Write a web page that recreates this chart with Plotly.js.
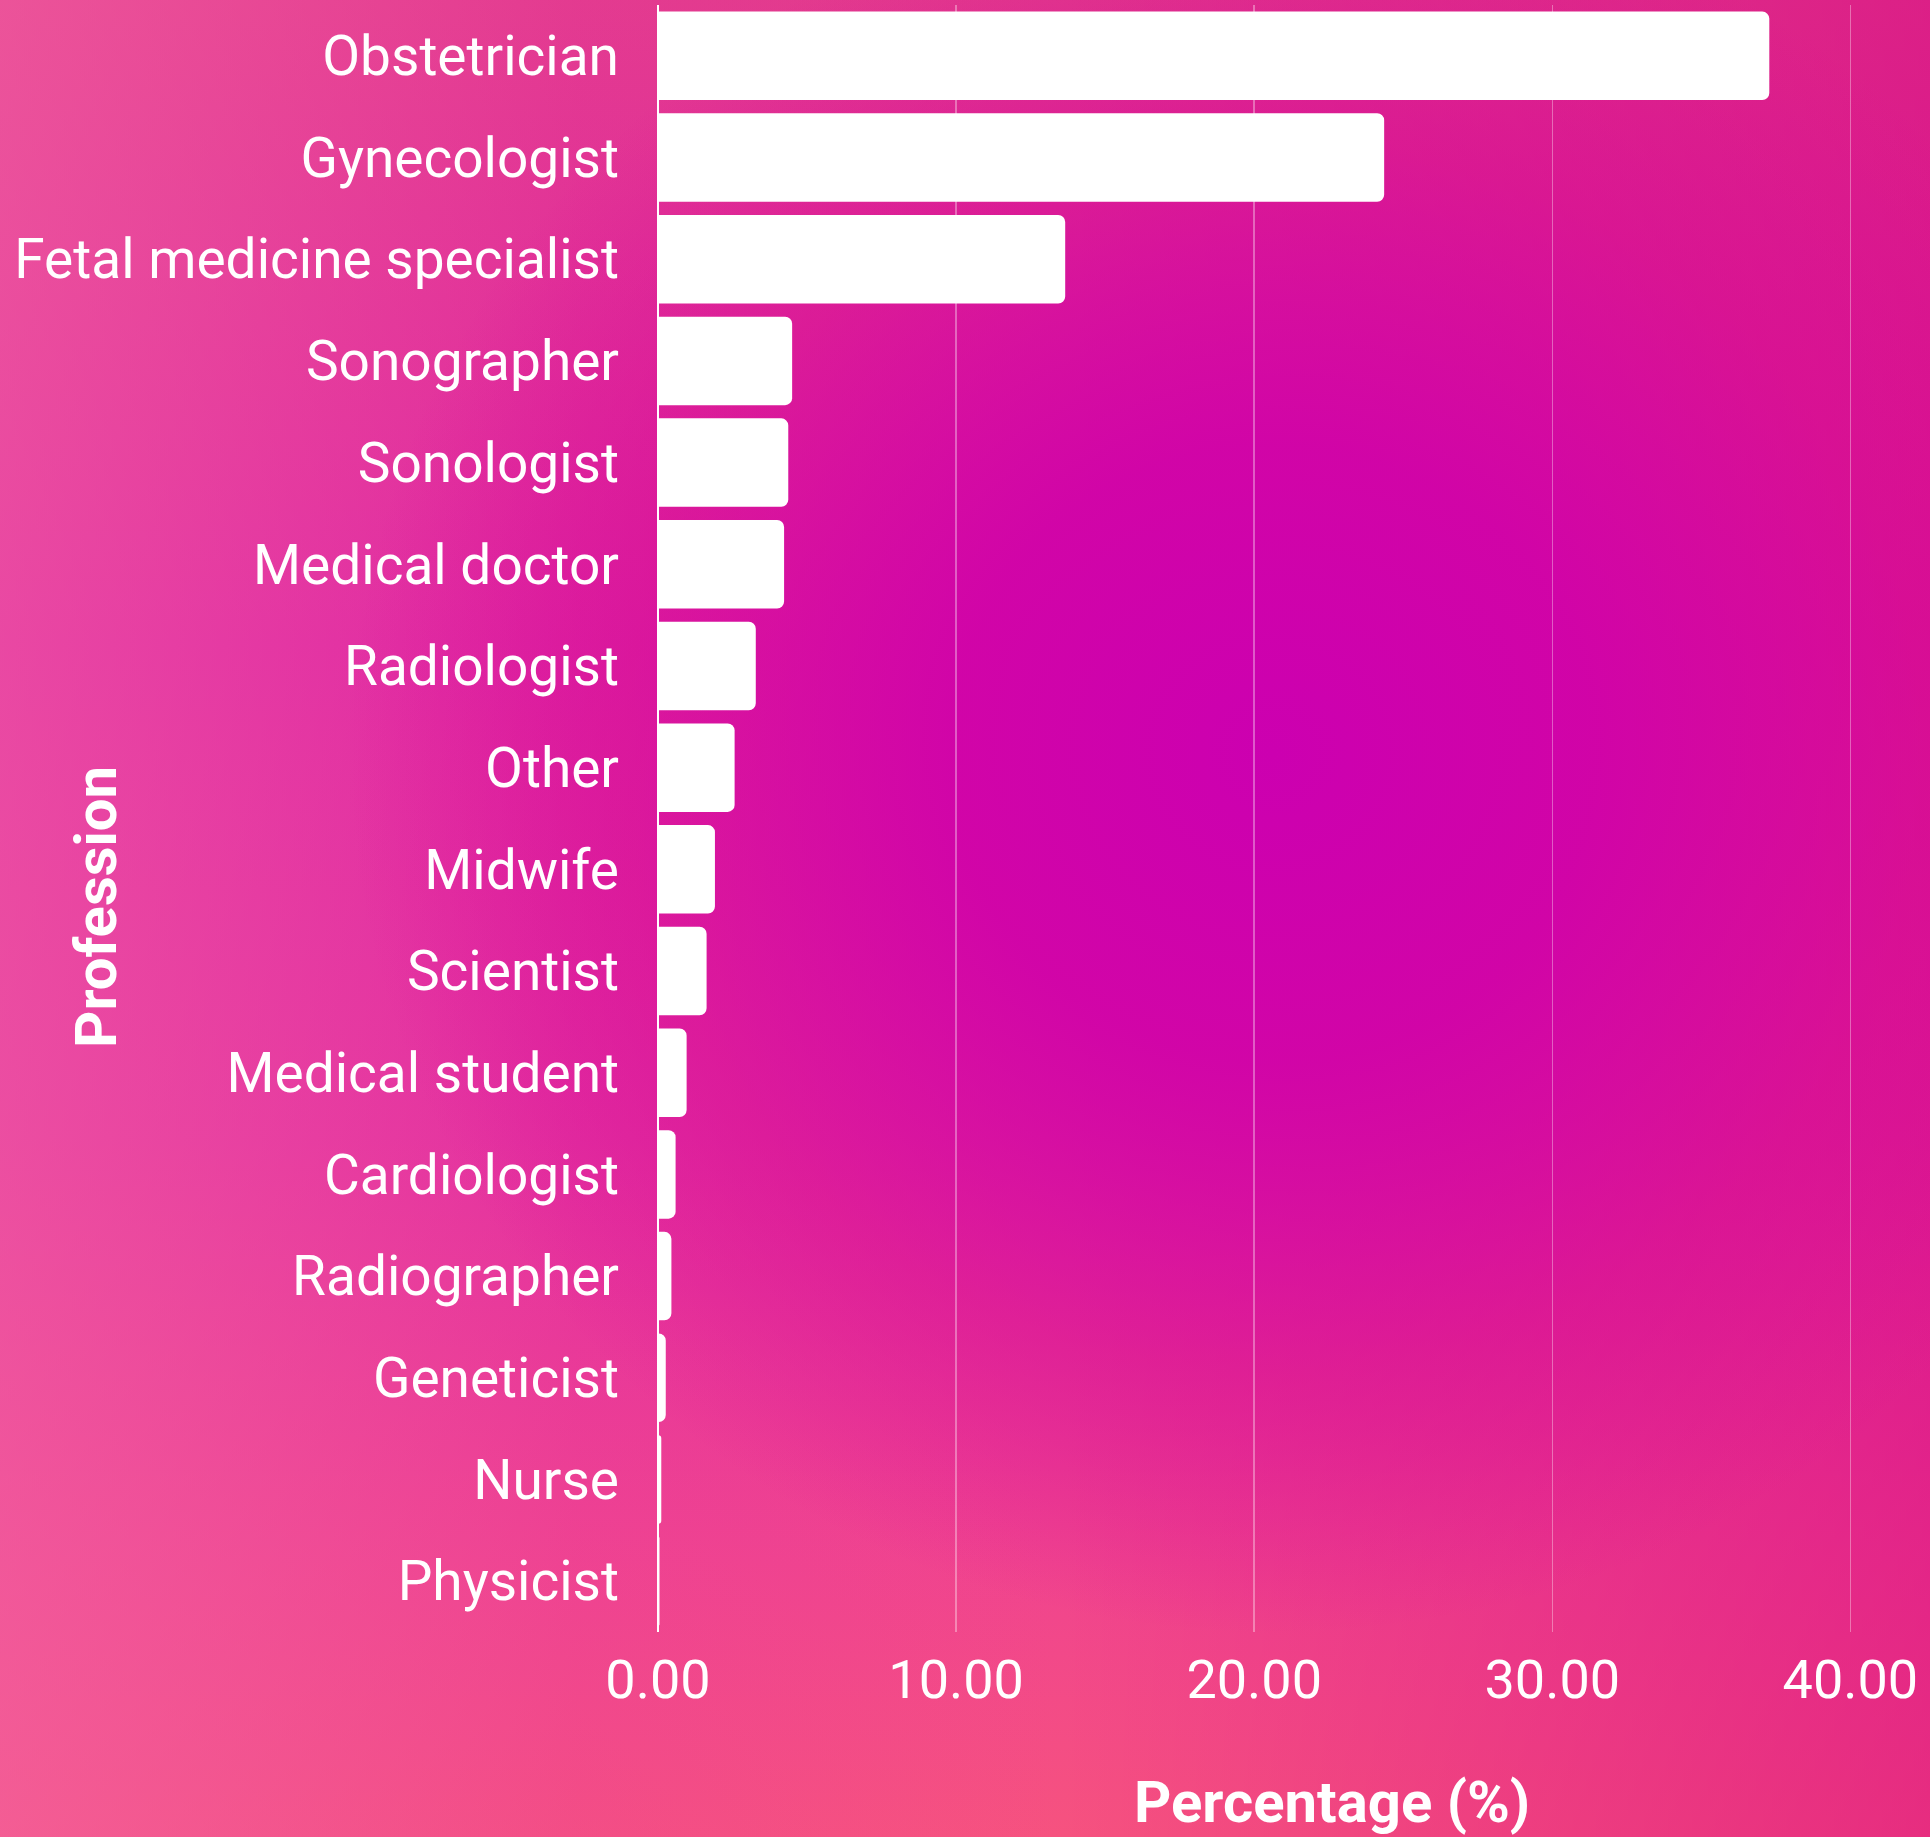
<!DOCTYPE html>
<html>
<head>
<meta charset="utf-8">
<script src="https://cdn.plot.ly/plotly-3.0.1.min.js"></script>
<style>
html, body { margin: 0; padding: 0; }
#bg {
  position: absolute; left: 0; top: 0; width: 1930px; height: 1837px;
  background:
    radial-gradient(ellipse 48% 48% at 66% 41%, rgba(204,0,176,1) 0%, rgba(208,2,168,0.92) 35%, rgba(214,10,150,0.5) 70%, rgba(214,10,150,0) 100%),
    linear-gradient(to right, rgba(242,100,162,0.6) 0%, rgba(232,60,160,0.2) 30%, rgba(220,20,150,0) 55%, rgba(212,0,128,0.45) 100%),
    linear-gradient(to bottom, #e23a8c 0%, #dc1ea4 35%, #e22ca0 62%, #f0448e 85%, #f6527f 100%);
}
#chart { position: absolute; left: 0; top: 0; width: 1930px; height: 1837px; }
</style>
</head>
<body>
<div id="bg"></div>
<div id="chart"></div>
<script>
const professions = [
  "Obstetrician", "Gynecologist", "Fetal medicine specialist", "Sonographer",
  "Sonologist", "Medical doctor", "Radiologist", "Other", "Midwife", "Scientist",
  "Medical student", "Cardiologist", "Radiographer", "Geneticist", "Nurse", "Physicist"
];
const percentages = [
  37.28, 24.36, 13.66, 4.50, 4.37, 4.23, 3.28, 2.57, 1.91, 1.63,
  0.96, 0.59, 0.45, 0.26, 0.11, 0.05
];
const xTickValues = [0, 10, 20, 30, 40];
const xTickLabels = ["0.00", "10.00", "20.00", "30.00", "40.00"];
const xTitle = "Percentage (%)";
const yTitle = "Profession";

const trace = {
  type: "bar",
  orientation: "h",
  x: percentages,
  y: professions,
  marker: { color: "#ffffff", cornerradius: 7, line: { width: 0 } },
  hoverinfo: "x+y"
};

const layout = {
  width: 1930,
  height: 1837,
  paper_bgcolor: "rgba(0,0,0,0)",
  plot_bgcolor: "rgba(0,0,0,0)",
  margin: { l: 658, r: 20, t: 5, b: 205 },
  bargap: 0.13,
  showlegend: false,
  font: { family: "Roboto, sans-serif", color: "#ffffff", size: 55 },
  xaxis: {
    range: [0, 42],
    tickvals: xTickValues,
    ticktext: xTickLabels,
    showgrid: true,
    gridcolor: "rgba(255,255,255,0.35)",
    gridwidth: 1.5,
    zeroline: true,
    zerolinecolor: "#ffffff",
    zerolinewidth: 2,
    showline: false,
    ticks: "",
    ticklabelstandoff: 11,
    tickfont: { family: "Roboto, sans-serif", size: 54, color: "#ffffff" },
    fixedrange: true
  },
  yaxis: {
    categoryorder: "array",
    categoryarray: professions,
    autorange: "reversed",
    showgrid: false,
    zeroline: false,
    showline: false,
    ticks: "",
    ticklabelstandoff: 38,
    tickfont: { family: "Roboto, sans-serif", size: 55, color: "#ffffff" },
    fixedrange: true
  },
  annotations: [
    {
      text: xTitle, xref: "paper", yref: "paper",
      x: (1332 - 658) / (1930 - 658 - 20), y: -(1802 - 1632) / (1632 - 5),
      xanchor: "center", yanchor: "middle", showarrow: false,
      font: { family: "Roboto, sans-serif", size: 58, color: "#ffffff", weight: "bold" }
    },
    {
      text: yTitle, xref: "paper", yref: "paper",
      x: -(658 - 96) / (1930 - 658 - 20), y: 1 - (907 - 5) / (1632 - 5),
      xanchor: "center", yanchor: "middle", textangle: -90, showarrow: false,
      font: { family: "Roboto, sans-serif", size: 58, color: "#ffffff", weight: "bold" }
    }
  ]
};

Plotly.newPlot("chart", [trace], layout, { displayModeBar: false, staticPlot: true });
</script>
</body>
</html>
